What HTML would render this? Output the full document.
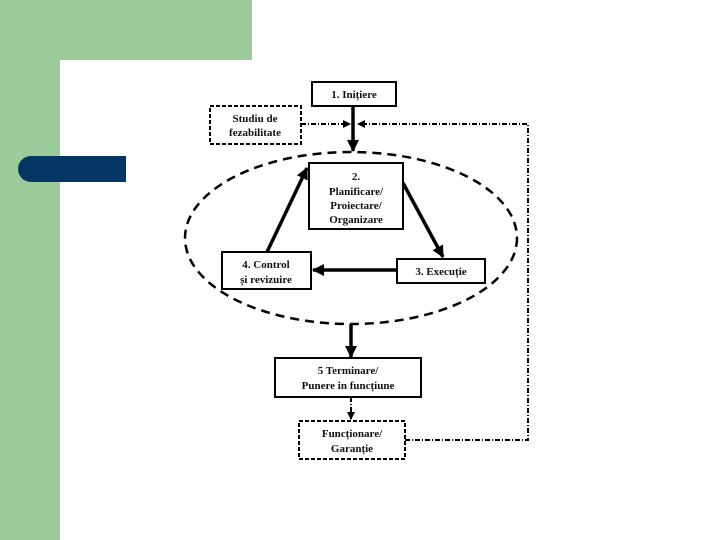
<!DOCTYPE html>
<html><head><meta charset="utf-8"><style>
body{margin:0;width:720px;height:540px;overflow:hidden;background:#fff;position:relative;font-family:"Liberation Serif",serif}
.g1{position:absolute;left:0;top:0;width:252px;height:60px;background:#9dcb9b}
.g2{position:absolute;left:0;top:0;width:60px;height:540px;background:#9dcb9b}
.w{position:absolute;left:60px;top:60px;width:40px;height:40px;background:#fff;border-top-left-radius:22px}
.pill{position:absolute;left:18px;top:156px;width:108px;height:26px;background:#053565;border-radius:13px 0 0 13px}
</style></head><body>
<div class="g1"></div><div class="g2"></div><div class="w"></div><div class="pill"></div>
<svg width="720" height="540" style="position:absolute;left:0;top:0" font-family="Liberation Serif,serif" font-weight="bold" font-size="11">
<defs><marker id="a" markerWidth="8" markerHeight="8" refX="7" refY="4" orient="auto" markerUnits="userSpaceOnUse"><path d="M0,0L8,4L0,8z" fill="#000"/></marker>
<marker id="b" markerWidth="12" markerHeight="12" refX="11" refY="6" orient="auto" markerUnits="userSpaceOnUse"><path d="M0,0L12,6L0,12z" fill="#000"/></marker></defs>
<ellipse cx="351" cy="238" rx="166" ry="86" fill="none" stroke="#000" stroke-width="2.5" stroke-dasharray="9,6"/>
<g fill="#fff" stroke="#000" stroke-width="2">
<rect x="312" y="82" width="84" height="24"/>
<rect x="309" y="163" width="94" height="66"/>
<rect x="397" y="259" width="88" height="24"/>
<rect x="222" y="252" width="89" height="37"/>
<rect x="275" y="358" width="146" height="39"/>
</g>
<g fill="#fff" stroke="#000" stroke-width="2" stroke-dasharray="4,2">
<rect x="210" y="106" width="91" height="38"/>
<rect x="299" y="421" width="106" height="38"/>
</g>
<g stroke="#000" fill="none" stroke-width="2" stroke-dasharray="5,2,1,2">
<path d="M301,124H350" marker-end="url(#a)"/>
<path d="M405,440H528V124H358" marker-end="url(#a)"/>
<path d="M351,397V419" marker-end="url(#a)"/>
</g>
<g stroke="#000" stroke-width="3.5" fill="none">
<path d="M353,106V151" marker-end="url(#b)"/>
<path d="M267,252L307,168" marker-end="url(#b)"/>
<path d="M403,183L443,257" marker-end="url(#b)"/>
<path d="M397,270H313" marker-end="url(#b)"/>
<path d="M351,324V357" marker-end="url(#b)"/>
</g>
<g text-anchor="middle" fill="#111">
<text x="354" y="98">1. Inițiere</text>
<text x="255" y="122">Studiu de</text><text x="255" y="136">fezabilitate</text>
<text x="356" y="180">2.</text><text x="356" y="195">Planificare/</text><text x="356" y="209">Proiectare/</text><text x="356" y="223">Organizare</text>
<text x="441" y="275">3. Execuție</text>
<text x="266" y="268">4. Control</text><text x="266" y="283">și revizuire</text>
<text x="348" y="374">5 Terminare/</text><text x="348" y="389">Punere in funcțiune</text>
<text x="352" y="437">Funcționare/</text><text x="352" y="452">Garanție</text>
</g>
</svg>
</body></html>
